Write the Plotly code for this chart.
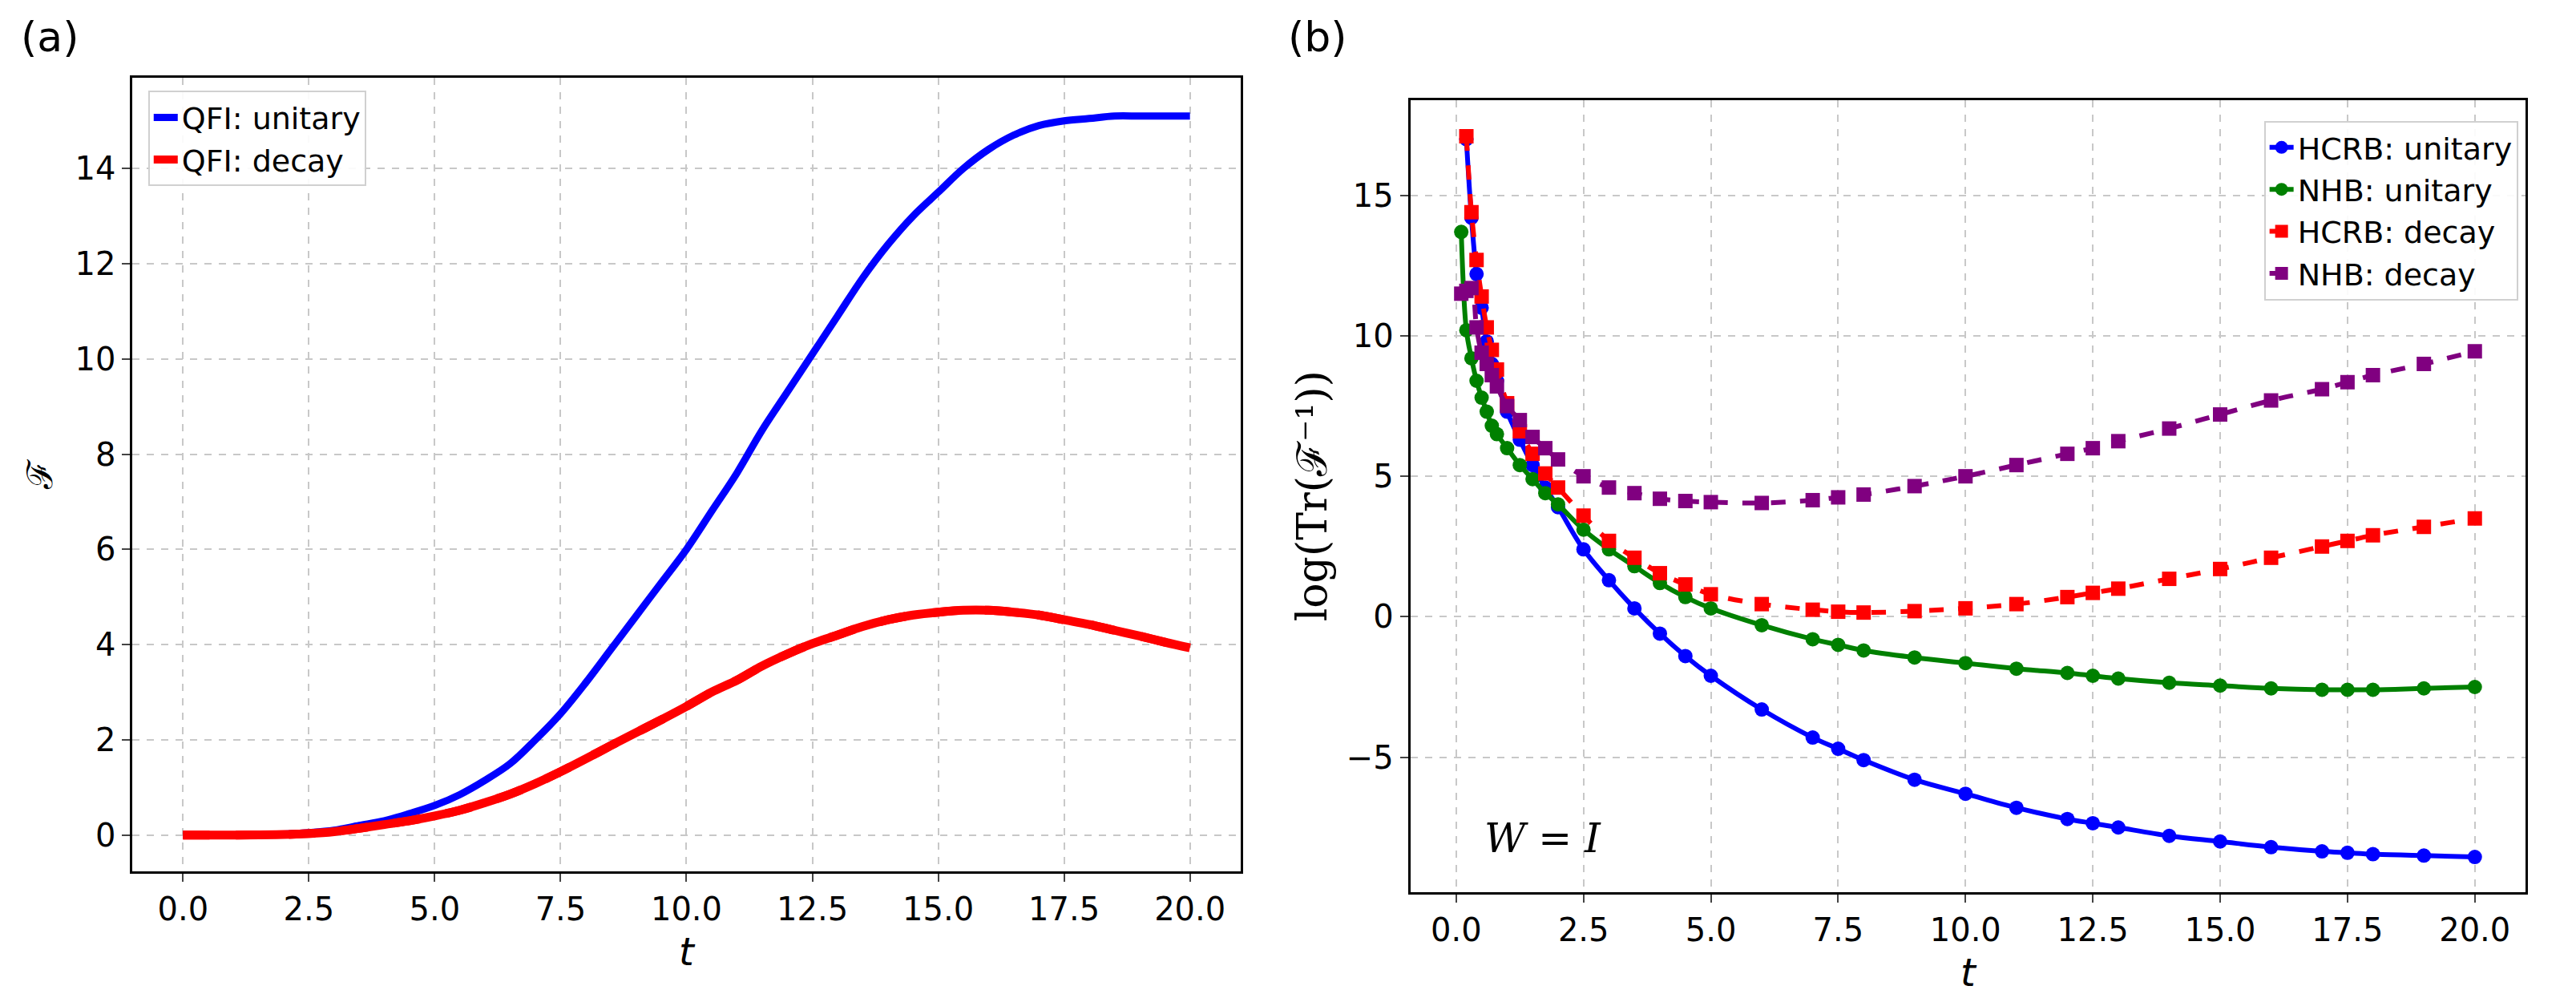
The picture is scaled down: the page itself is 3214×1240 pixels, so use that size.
import plotly.graph_objects as go
from plotly.subplots import make_subplots

# (a) QFI values
t_a = [0, 1, 2, 2.5, 3, 3.5, 4, 4.5, 5, 5.5, 6, 6.5, 7, 7.5, 8, 8.5, 9, 9.5, 10, 10.5, 11,
       11.5, 12, 12.5, 13, 13.5, 14, 14.5, 15, 15.5, 16, 16.5, 17, 17.5, 18, 18.5, 19, 19.5, 20]
qfi_unitary = [0, 0.0, 0.02, 0.05, 0.1, 0.2, 0.3, 0.45, 0.62, 0.85, 1.15, 1.5, 2.0, 2.55, 3.2, 3.9,
               4.6, 5.3, 6.0, 6.8, 7.6, 8.5, 9.3, 10.1, 10.9, 11.7, 12.4, 13.0, 13.5, 14.0, 14.4,
               14.7, 14.9, 15.0, 15.05, 15.1, 15.1, 15.1, 15.1]
qfi_decay = [0, 0.0, 0.01, 0.03, 0.07, 0.14, 0.22, 0.3, 0.4, 0.52, 0.68, 0.86, 1.08, 1.33, 1.6, 1.88,
             2.15, 2.42, 2.7, 3.0, 3.25, 3.55, 3.8, 4.02, 4.2, 4.38, 4.52, 4.62, 4.68, 4.72, 4.72,
             4.68, 4.62, 4.52, 4.42, 4.3, 4.18, 4.05, 3.93]

# (b) log(Tr(F^-1)) values
t_b = [0.1, 0.2, 0.3, 0.4, 0.5, 0.6, 0.7, 0.8, 1, 1.25, 1.5, 1.75, 2, 2.5, 3, 3.5, 4, 4.5, 5, 6, 7,
       7.5, 8, 9, 10, 11, 12, 12.5, 13, 14, 15, 16, 17, 17.5, 18, 19, 20]
hcrb_unitary = [None, 17.0, 14.2, 12.2, 11.0, 9.8, 9.0, 8.4, 7.3, 6.3, 5.4, 4.6, 3.9, 2.4, 1.3, 0.3,
                -0.6, -1.4, -2.1, -3.3, -4.3, -4.7, -5.1, -5.8, -6.3, -6.8, -7.2, -7.35, -7.5,
                -7.8, -8.0, -8.2, -8.35, -8.4, -8.45, -8.5, -8.55]
nhb_unitary = [13.7, 10.2, 9.2, 8.4, 7.8, 7.3, 6.8, 6.5, 6.0, 5.4, 4.9, 4.4, 4.0, 3.1, 2.4, 1.8,
               1.2, 0.7, 0.3, -0.3, -0.8, -1.0, -1.2, -1.45, -1.65, -1.85, -2.0, -2.1, -2.2,
               -2.35, -2.45, -2.55, -2.6, -2.6, -2.6, -2.55, -2.5]
hcrb_decay = [None, 17.1, 14.4, 12.7, 11.4, 10.3, 9.5, 8.8, 7.6, 6.6, 5.8, 5.1, 4.6, 3.6, 2.7, 2.1,
              1.55, 1.15, 0.8, 0.45, 0.25, 0.18, 0.15, 0.2, 0.3, 0.45, 0.7, 0.85, 1.0, 1.35,
              1.7, 2.1, 2.5, 2.7, 2.9, 3.2, 3.5]
nhb_decay = [11.5, 11.6, 11.7, 10.3, 9.4, 9.0, 8.6, 8.2, 7.5, 7.0, 6.4, 6.0, 5.6, 5.0, 4.6, 4.4,
             4.2, 4.12, 4.08, 4.05, 4.15, 4.25, 4.35, 4.65, 5.0, 5.4, 5.8, 6.0, 6.25, 6.7,
             7.2, 7.7, 8.1, 8.35, 8.6, 9.0, 9.45]

fig = make_subplots(rows=1, cols=2)

fig.add_trace(go.Scatter(x=t_a, y=qfi_unitary, name='QFI: unitary', mode='lines',
                         line=dict(color='blue', width=9, shape='spline'),
                         legend='legend'), row=1, col=1)
fig.add_trace(go.Scatter(x=t_a, y=qfi_decay, name='QFI: decay', mode='lines',
                         line=dict(color='red', width=11, dash='dash', shape='spline'),
                         legend='legend'), row=1, col=1)
# cover dashes in plot (the reference markers are dense enough to look solid)
fig.add_trace(go.Scatter(x=t_a, y=qfi_decay, mode='lines', showlegend=False,
                         line=dict(color='red', width=11, shape='spline')), row=1, col=1)

fig.add_trace(go.Scatter(x=t_b, y=hcrb_unitary, name='HCRB: unitary', mode='lines+markers',
                         line=dict(color='blue', width=6, shape='spline'),
                         marker=dict(size=18, color='blue'), legend='legend2'), row=1, col=2)
fig.add_trace(go.Scatter(x=t_b, y=nhb_unitary, name='NHB: unitary', mode='lines+markers',
                         line=dict(color='green', width=6, shape='spline'),
                         marker=dict(size=18, color='green'), legend='legend2'), row=1, col=2)
fig.add_trace(go.Scatter(x=t_b, y=hcrb_decay, name='HCRB: decay', mode='lines+markers',
                         line=dict(color='red', width=6, dash='dash', shape='spline'),
                         marker=dict(size=18, color='red', symbol='square'), legend='legend2'), row=1, col=2)
fig.add_trace(go.Scatter(x=t_b, y=nhb_decay, name='NHB: decay', mode='lines+markers',
                         line=dict(color='purple', width=6, dash='dash', shape='spline'),
                         marker=dict(size=18, color='purple', symbol='square'), legend='legend2'), row=1, col=2)

grid = dict(showgrid=True, gridcolor='#c8c8c8', griddash='dash', gridwidth=2,
            showline=True, linecolor='black', linewidth=3, mirror=True,
            ticks='outside', ticklen=10, tickwidth=2, zeroline=False,
            tickfont=dict(size=40))
xt = dict(tickvals=[0, 2.5, 5, 7.5, 10, 12.5, 15, 17.5, 20],
          ticktext=['0.0', '2.5', '5.0', '7.5', '10.0', '12.5', '15.0', '17.5', '20.0'])

fig.update_xaxes(domain=[0.049, 0.479], range=[-1, 21], title=dict(text='<i>t</i>', font=dict(size=48)),
                 row=1, col=1, **grid, **xt)
fig.update_yaxes(domain=[0.13, 0.928], range=[-0.76, 15.9], dtick=2,
                 title=dict(text='ℱ', font=dict(size=44, family='DejaVu Serif')),
                 row=1, col=1, **grid)
fig.update_xaxes(domain=[0.545, 0.978], range=[-0.9, 21], title=dict(text='<i>t</i>', font=dict(size=48)),
                 row=1, col=2, **grid, **xt)
fig.update_yaxes(domain=[0.109, 0.906], range=[-9.8, 18.4], tickvals=[-5, 0, 5, 10, 15],
                 ticktext=['−5', '0', '5', '10', '15'],
                 title=dict(text='log(Tr(ℱ⁻¹))', font=dict(size=52, family='DejaVu Serif'), standoff=8),
                 row=1, col=2, **grid)

fig.update_layout(
    width=3214, height=1240, template='plotly_white', paper_bgcolor='white', plot_bgcolor='white',
    font=dict(family='DejaVu Sans', color='black', size=38),
    margin=dict(l=0, r=0, t=0, b=0),
    legend=dict(x=0.055, y=0.915, xanchor='left', yanchor='top', bgcolor='rgba(255,255,255,0.9)',
                bordercolor='#d0d0d0', borderwidth=2, font=dict(size=38), tracegroupgap=0),
    legend2=dict(x=0.975, y=0.885, xanchor='right', yanchor='top', bgcolor='rgba(255,255,255,0.9)',
                 bordercolor='#d0d0d0', borderwidth=2, font=dict(size=38), tracegroupgap=0),
    annotations=[
        dict(text='(a)', x=0.005, y=0.995, xref='paper', yref='paper', showarrow=False,
             xanchor='left', yanchor='top', font=dict(size=52)),
        dict(text='(b)', x=0.497, y=0.995, xref='paper', yref='paper', showarrow=False,
             xanchor='left', yanchor='top', font=dict(size=52)),
        dict(text='<i>W</i> = <i>I</i>', x=0.52, y=-7.9, xref='x2', yref='y2', showarrow=False,
             xanchor='left', font=dict(size=50, family='DejaVu Serif')),
    ],
)

fig.write_html("out.html")
